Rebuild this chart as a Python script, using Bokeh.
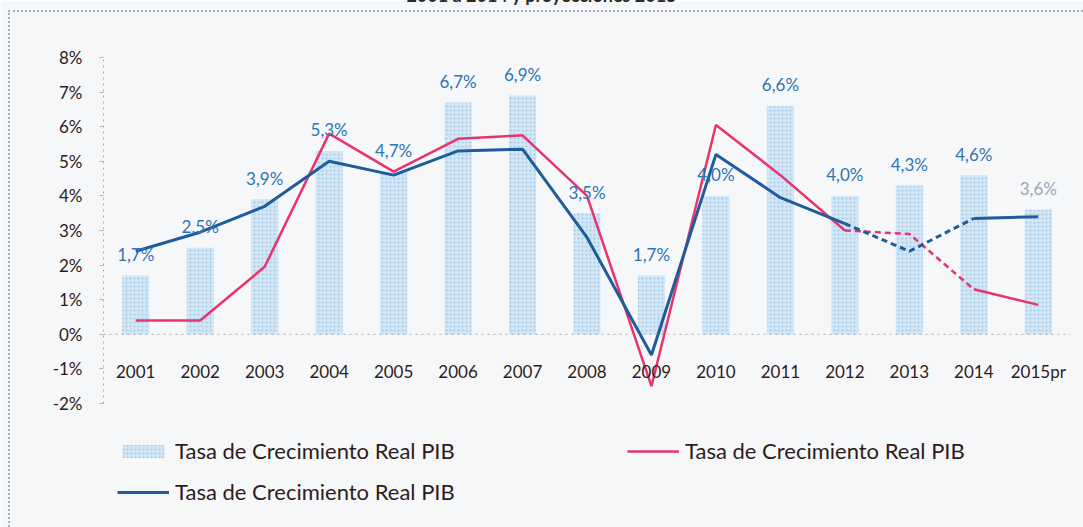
from bokeh.plotting import figure
from bokeh.models import (ColumnDataSource, FactorRange, Legend, LegendItem, Div, Span,
                          PrintfTickFormatter, FixedTicker, InlineStyleSheet)
from bokeh.embed import file_html
from bokeh.resources import INLINE
from bokeh.core.properties import value

# ---------------- data ----------------
years = ["2001", "2002", "2003", "2004", "2005", "2006", "2007", "2008",
         "2009", "2010", "2011", "2012", "2013", "2014", "2015pr"]
bar_values = [1.7, 2.5, 3.9, 5.3, 4.7, 6.7, 6.9, 3.5, 1.7, 4.0, 6.6, 4.0, 4.3, 4.6, 3.6]
pink_values = [0.4, 0.4, 1.95, 5.8, 4.7, 5.65, 5.75, 4.0, -1.5, 6.05, 4.6, 3.0, 2.9, 1.3, 0.85]
blue_values = [2.4, 2.95, 3.7, 5.0, 4.6, 5.3, 5.35, 2.8, -0.6, 5.2, 3.95, 3.2, 2.4, 3.35, 3.4]
y_ticks = [-2, -1, 0, 1, 2, 3, 4, 5, 6, 7, 8]
title_text = "2001 a 2014 y proyecciones 2015"
legend_label = "Tasa de Crecimiento Real PIB"

FONT = "Lato"
BG = "#f6f7f9"
TXT = "#2e1c1c"
BLUE = "#1f5c9c"
PINK = "#e8336e"
LBL_BLUE = "#2f74b5"
LBL_GRAY = "#9aa5b6"

# frame: x 103..1070, y 57..505 ; 8% at y=57, -2% at y=403 (34.6 px per 1%)
p = figure(x_range=FactorRange(factors=years), y_range=(-4.948, 8),
           width=1083, height=527, output_backend="svg", toolbar_location=None,
           min_border_left=103, min_border_right=13, min_border_top=57,
           min_border_bottom=22, background_fill_color=BG, border_fill_color=BG)
p.outline_line_color = None
p.grid.grid_line_color = None

# bars
bar_src = ColumnDataSource(dict(x=years, top=bar_values))
bars = p.vbar(x="x", top="top", width=0.42, source=bar_src,
              fill_color="#d2e6f5", line_color=None,
              hatch_pattern="dot", hatch_color="#a3c8e6", hatch_scale=4, hatch_weight=1.2)

# zero line
p.add_layout(Span(location=0, dimension="width", line_color="#a9a9a9",
                  line_dash="dotted", line_width=1))

# lines: solid to 2012, dashed 2012-2014, solid 2014-2015
pieces = [(0, 12, "solid"), (11, 14, "6 4"), (13, 15, "solid")]
pink_main = None
blue_main = None
for a, b, dash in pieces:
    r = p.line(years[a:b], pink_values[a:b], line_color=PINK, line_width=2.5, line_dash=dash)
    if pink_main is None:
        pink_main = r
for a, b, dash in pieces:
    r = p.line(years[a:b], blue_values[a:b], line_color=BLUE, line_width=3, line_dash=dash)
    if blue_main is None:
        blue_main = r

# data labels
lbl_text = [f"{v:.1f}%".replace(".", ",") for v in bar_values]
lbl_color = [LBL_BLUE] * (len(years) - 1) + [LBL_GRAY]
lbl_src = ColumnDataSource(dict(x=years, y=bar_values, t=lbl_text, c=lbl_color))
p.text(x="x", y="y", text="t", source=lbl_src, text_color="c", y_offset=-21,
       text_align="center", text_baseline="middle",
       text_font=value(FONT), text_font_size="17px")

# axes
p.yaxis.ticker = FixedTicker(ticks=y_ticks)
p.yaxis.bounds = (-2, 8)
p.yaxis.formatter = PrintfTickFormatter(format="%d%%")
p.yaxis.axis_line_color = "#a9a9a9"
p.yaxis.axis_line_dash = "dotted"
p.yaxis.major_tick_line_color = "#b5b5b5"
p.yaxis.major_tick_out = 4
p.yaxis.major_tick_in = 0
p.yaxis.minor_tick_line_color = None
p.yaxis.major_label_standoff = 17
p.yaxis.major_label_text_font = FONT
p.yaxis.major_label_text_font_size = "17px"
p.yaxis.major_label_text_color = TXT

p.xaxis.fixed_location = -0.78
p.xaxis.axis_line_color = None
p.xaxis.major_tick_line_color = None
p.xaxis.minor_tick_line_color = None
p.xaxis.major_tick_out = 0
p.xaxis.major_tick_in = 0
p.xaxis.major_label_standoff = 0
p.xaxis.major_label_text_font = FONT
p.xaxis.major_label_text_font_size = "17px"
p.xaxis.major_label_text_color = TXT

# legends (one per entry, inside the frame area below the axis labels)
def make_legend(renderer, loc):
    lg = Legend(items=[LegendItem(label=legend_label, renderers=[renderer])], location=loc)
    lg.background_fill_alpha = 0
    lg.border_line_color = None
    lg.padding = 0
    lg.margin = 0
    lg.spacing = 0
    lg.glyph_width = 52
    lg.glyph_height = 16
    lg.label_height = 20
    lg.label_standoff = 6
    lg.label_text_font = FONT
    lg.label_text_font_size = "22px"
    lg.label_text_color = TXT
    p.add_layout(lg, "center")
    return lg

make_legend(bars, (14, 41))
make_legend(pink_main, (524, 41))
make_legend(blue_main, (14, 0))

# title at very top (cut off by the page edge, as in the scan)
title_div = Div(text=title_text, styles={
    "position": "absolute", "top": "-17px", "left": "0px", "width": "1083px",
    "text-align": "center", "font-family": FONT, "font-size": "18px",
    "font-weight": "bold", "color": "#2a2a2a"})
p.elements = [title_div]

# chart-area border (left and top edges)
p.stylesheets = [InlineStyleSheet(css="""
:host { position: relative; overflow: hidden; }
:host::after { content: ""; position: absolute; left: 8px; top: 10px; right: 0; bottom: 0;
  border-left: 2px dotted #a4b0c8; border-top: 2px dotted #a4b0c8; pointer-events: none; }
""")]

open("out.html", "w").write(file_html(p, INLINE))
